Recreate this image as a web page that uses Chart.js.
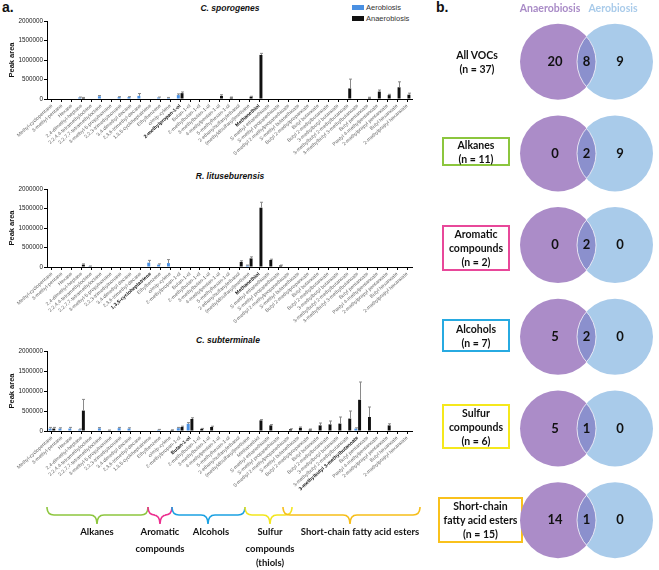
<!DOCTYPE html>
<html>
<head>
<meta charset="utf-8">
<script src="https://cdn.jsdelivr.net/npm/chart.js@4.4.1/dist/chart.umd.min.js"></script>
<style>
body{margin:0;width:659px;height:570px;position:relative;overflow:hidden;background:#fff;font-family:"Liberation Sans",Arial,sans-serif}
canvas{position:absolute}
.txt{position:absolute;white-space:nowrap;transform:translate(-50%,-50%)}
.title{font-weight:bold;font-style:italic;font-size:8.5px;color:#111}
.panel{font-weight:bold;font-size:14px;color:#111;position:absolute}
.grp{font-family:Lato,"Open Sans",sans-serif;font-weight:bold;font-size:9.5px;color:#111}
.box{position:absolute;box-sizing:border-box;border:2px solid;display:flex;align-items:center;justify-content:center;text-align:center;font-family:Lato,"Open Sans",sans-serif;font-weight:bold;font-size:10.5px;line-height:14px;color:#111}
.leg{position:absolute;font-size:7.5px;color:#333}
.sw{position:absolute;width:12px;height:5px}
</style>
</head>
<body>
<div class="panel" style="left:2px;top:-1px">a.</div>
<div class="panel" style="left:436px;top:-1px">b.</div>

<div class="txt title" style="left:230px;top:8px">C. sporogenes</div>
<div class="txt title" style="left:230px;top:176px">R. lituseburensis</div>
<div class="txt title" style="left:228px;top:340px">C. subterminale</div>

<div class="sw" style="left:352px;top:5px;background:#4a90e2"></div>
<div class="leg" style="left:366px;top:3px">Aerobiosis</div>
<div class="sw" style="left:352px;top:16px;background:#111"></div>
<div class="leg" style="left:366px;top:14px">Anaerobiosis</div>

<canvas id="c1" width="420" height="154" style="left:0;top:15px"></canvas>
<canvas id="c2" width="420" height="154" style="left:0;top:183px"></canvas>
<canvas id="c3" width="420" height="156" style="left:0;top:345px"></canvas>

<svg id="braces" width="659" height="570" style="position:absolute;left:0;top:0"></svg>
<div class="txt grp" style="left:97px;top:531px">Alkanes</div>
<div class="txt grp" style="left:160px;top:531px">Aromatic</div>
<div class="txt grp" style="left:160px;top:548px">compounds</div>
<div class="txt grp" style="left:211px;top:531px">Alcohols</div>
<div class="txt grp" style="left:270px;top:531px">Sulfur</div>
<div class="txt grp" style="left:270px;top:548px">compounds</div>
<div class="txt grp" style="left:270px;top:562px">(thiols)</div>
<div class="txt grp" style="left:360px;top:531px">Short-chain fatty acid esters</div>

<div class="txt grp" style="left:550px;top:8px;font-size:10.5px;color:#a98bc7">Anaerobiosis</div>
<div class="txt grp" style="left:613px;top:8px;font-size:10.5px;color:#a9cbea">Aerobiosis</div>

<div class="box" style="left:440px;top:46px;width:74px;height:32px;border-color:transparent">All VOCs<br>(n = 37)</div>
<div class="box" style="left:442px;top:137px;width:68px;height:29px;border-color:#8cc63e">Alkanes<br>(n = 11)</div>
<div class="box" style="left:442px;top:225px;width:68px;height:46px;border-color:#e8489a">Aromatic<br>compounds<br>(n = 2)</div>
<div class="box" style="left:442px;top:319px;width:68px;height:33px;border-color:#27aae1">Alcohols<br>(n = 7)</div>
<div class="box" style="left:442px;top:404px;width:68px;height:45px;border-color:#f5e81c">Sulfur<br>compounds<br>(n = 6)</div>
<div class="box" style="left:438px;top:497px;width:85px;height:46px;border-color:#f9c11c">Short-chain<br>fatty acid esters<br>(n = 15)</div>

<canvas id="venn" width="159" height="570" style="left:500px;top:0"></canvas>

<script>
const categories = [
  'Methyl-cyclopentane', '3-methyl-pentane', 'Hexane', '2,4-dimethyl-heptane',
  '2,2,4,4-tetramethyloctane', '2,2,7,7-tetramethyloctane', '3-methyl-5-propylnonane',
  '2,2,3-trimethylnonane', '3,4-dimethyl decane', '2,3,6-trimethyl-decane',
  '1,3,5-cycloheptatriene', 'Ethylbenzene', 'o/m/p-xylene', '2-methylpropan-1-ol',
  'Butan-1-ol', '2-methylbutan-1-ol', '3-methylbutan-1-ol', '4-methylpentan-1-ol',
  '5-methylhexan-1-ol', '2-ethenylsulfanylethanol', '(methyldisulfanyl)methane',
  'Methanethiol', 'S-methyl ethanethioate', 'S-methyl propanethioate',
  'S-methyl 2-methylpropanethioate', 'S-methyl butanethioate', 'Butyl 2-methylpropanoate',
  'Butyl butanoate', 'Butyl 2-methylbutanoate', '3-methylbutyl butanoate',
  '3-methylbutyl 2-methylbutanoate', '3-methylbutyl 3-methylbutanoate', 'Butyl pentanoate',
  'Pentyl 4-methylpentanoate', '2-methylpropyl pentanoate', 'Butyl hexanoate',
  '2-methylpropyl hexanoate'
];
const y_ticks = [0, 500000, 1000000, 1500000, 2000000];

// C. sporogenes
const sporo_aero     = [0,0,0,40000,0,70000,0,50000,50000,80000, 0,40000,30000,100000,0,0,0,0,0,0, 0,0,0,0,0,0,0,0,0,0, 0,0,0,0,0,0,0];
const sporo_aero_err = [0,0,0,10000,0,20000,0,10000,10000,60000, 0,10000,10000,30000,0,0,0,0,0,0, 0,0,0,0,0,0,0,0,0,0, 0,0,0,0,0,0,0];
const sporo_anae     = [0,0,0,30000,0,0,0,0,0,0, 0,0,0,150000,0,0,0,80000,40000,0, 60000,1130000,0,0,0,0,0,0,0,0, 270000,0,35000,190000,100000,300000,110000];
const sporo_anae_err = [0,0,0,10000,0,0,0,0,0,0, 0,0,0,30000,0,0,0,30000,10000,0, 10000,40000,0,0,0,0,0,0,0,0, 240000,0,10000,40000,20000,140000,40000];

// R. lituseburensis
const litu_aero      = [0,0,0,0,20000,0,0,0,0,0, 110000,60000,100000,0,0,0,0,0,0,0, 40000,0,0,0,0,0,0,0,0,0, 0,0,0,0,0,0,0];
const litu_aero_err  = [0,0,0,0,5000,0,0,0,0,0, 60000,20000,90000,0,0,0,0,0,0,0, 10000,0,0,0,0,0,0,0,0,0, 0,0,0,0,0,0,0];
const litu_anae      = [0,0,0,60000,0,0,0,0,0,0, 0,0,0,0,0,0,0,0,0,130000, 220000,1520000,180000,40000,0,0,0,0,0,0, 0,0,0,0,0,0,0];
const litu_anae_err  = [0,0,0,20000,0,0,0,0,0,0, 0,0,0,0,0,0,0,0,0,30000, 40000,140000,20000,10000,0,0,0,0,0,0, 0,0,0,0,0,0,0];

// C. subterminale
const subt_aero      = [60000,60000,60000,40000,0,65000,20000,70000,60000,0, 0,30000,0,70000,180000,0,0,0,0,0, 0,0,0,0,0,0,0,0,0,0, 0,60000,0,0,0,0,0];
const subt_aero_err  = [30000,20000,30000,10000,0,20000,5000,20000,20000,0, 0,10000,0,20000,30000,0,0,0,0,0, 0,0,0,0,0,0,0,0,0,0, 0,20000,0,0,0,0,0];
const subt_anae      = [60000,0,0,510000,0,0,0,0,0,0, 0,0,25000,100000,300000,55000,100000,0,0,0, 0,265000,140000,0,45000,80000,40000,140000,165000,185000, 310000,780000,350000,0,140000,0,0];
const subt_anae_err  = [30000,0,0,280000,0,0,0,0,0,0, 0,0,5000,20000,30000,10000,20000,0,0,0, 0,20000,20000,0,10000,20000,10000,60000,85000,165000, 190000,445000,250000,0,40000,0,0];

// Venn counts (anaerobiosis only / both / aerobiosis only)
const venn_rows = ['All VOCs', 'Alkanes', 'Aromatic compounds', 'Alcohols', 'Sulfur compounds', 'Short-chain fatty acid esters'];
const anae_only = [20, 0, 0, 5, 5, 14];
const shared    = [8, 2, 2, 2, 1, 1];
const aero_only = [9, 9, 0, 0, 0, 0];

const font_family = '"Liberation Sans", Arial, sans-serif';

const error_bars = {
    id: 'error_bars',
    afterDatasetsDraw(chart) {
        const ctx = chart.ctx;
        const y = chart.scales.y;
        ctx.save();
        ctx.strokeStyle = '#8a8a8a';
        ctx.lineWidth = 1;
        chart.data.datasets.forEach((ds, i) => {
            chart.getDatasetMeta(i).data.forEach((bar, j) => {
                const err = ds.errors[j];
                if (!err) return;
                const x = Math.round(bar.x) + 0.5;
                const top = y.getPixelForValue(ds.data[j] + err);
                ctx.beginPath();
                ctx.moveTo(x, bar.y);
                ctx.lineTo(x, top);
                ctx.moveTo(x - 1.5, top);
                ctx.lineTo(x + 1.5, top);
                ctx.stroke();
            });
        });
        ctx.restore();
    }
};

function make_bar_chart(id, aero, aero_err, anae, anae_err, bold_idx){
    new Chart(document.getElementById(id), {
        type: 'bar',
        data: {
            labels: categories,
            datasets: [
                {label: 'Aerobiosis', data: aero, errors: aero_err, backgroundColor: '#4a90e2'},
                {label: 'Anaerobiosis', data: anae, errors: anae_err, backgroundColor: '#111111'}
            ]
        },
        options: {
            responsive: false,
            animation: false,
            events: [],
            categoryPercentage: 0.75,
            barPercentage: 0.8,
            layout: {padding: {top: 6, right: 8, left: 0, bottom: 0}},
            plugins: {legend: {display: false}, tooltip: {enabled: false}},
            scales: {
                x: {
                    grid: {drawOnChartArea: false, offset: false, tickLength: 3, color: '#000'},
                    border: {color: '#000'},
                    ticks: {
                        autoSkip: false, maxRotation: 42, minRotation: 42, padding: 1,
                        color: c => bold_idx.includes(c.index) ? '#111' : '#666',
                        font: c => ({size: 5, family: font_family, weight: bold_idx.includes(c.index) ? 'bold' : 'normal'})
                    },
                    afterFit: s => { s.height = 70; }
                },
                y: {
                    min: 0, max: 2000000,
                    grid: {drawOnChartArea: false, tickLength: 3, color: '#000'},
                    border: {color: '#000'},
                    afterBuildTicks: s => { s.ticks = y_ticks.map(v => ({value: v})); },
                    ticks: {padding: 1, color: '#222', font: {size: 6.3, family: font_family}, callback: v => String(v)},
                    title: {display: true, text: 'Peak area', color: '#111', padding: {top: 7, bottom: 0}, font: {size: 7.5, weight: 'bold', family: font_family}},
                    afterFit: s => { s.width = 47; }
                }
            }
        },
        plugins: [error_bars]
    });
}

make_bar_chart('c1', sporo_aero, sporo_aero_err, sporo_anae, sporo_anae_err, [13, 21]);
make_bar_chart('c2', litu_aero, litu_aero_err, litu_anae, litu_anae_err, [10, 21]);
make_bar_chart('c3', subt_aero, subt_aero_err, subt_anae, subt_anae_err, [14, 31]);

// curly braces under the third chart
function draw_braces(){
    const svg = document.getElementById('braces');
    const braces = [
        [47, 97, 148, '#8dc63f'],
        [148, 160, 172, '#ec2f8f'],
        [172, 208, 245, '#1ba1e2'],
        [245, 270, 292, '#f2e61e'],
        [283, 350, 420, '#f6be1a']
    ];
    const y0 = 507, ym = 515, yt = 524, r = 7;
    braces.forEach(([a, m, b, col]) => {
        const d = `M${a},${y0} Q${a},${ym} ${a + r},${ym} L${m - r},${ym} Q${m},${ym} ${m},${yt} ` +
                  `Q${m},${ym} ${m + r},${ym} L${b - r},${ym} Q${b},${ym} ${b},${y0}`;
        const p = document.createElementNS('http://www.w3.org/2000/svg', 'path');
        p.setAttribute('d', d);
        p.setAttribute('fill', 'none');
        p.setAttribute('stroke', col);
        p.setAttribute('stroke-width', '1.6');
        svg.appendChild(p);
    });
}
draw_braces();

const venn_radius = 38;
const venn_overlap = {
    id: 'venn_overlap',
    afterDatasetsDraw(chart) {
        const ctx = chart.ctx;
        const purple = chart.getDatasetMeta(0).data;
        const blue = chart.getDatasetMeta(1).data;
        venn_rows.forEach((row, i) => {
            const p = purple[i], b = blue[i];
            ctx.save();
            ctx.beginPath();
            ctx.arc(p.x, p.y, venn_radius, 0, Math.PI * 2);
            ctx.clip();
            ctx.beginPath();
            ctx.arc(b.x, b.y, venn_radius, 0, Math.PI * 2);
            ctx.fillStyle = '#8b90cd';
            ctx.fill();
            ctx.strokeStyle = 'rgba(255,255,255,0.75)';
            ctx.lineWidth = 1;
            ctx.stroke();
            ctx.restore();
            ctx.save();
            ctx.beginPath();
            ctx.arc(b.x, b.y, venn_radius, 0, Math.PI * 2);
            ctx.clip();
            ctx.beginPath();
            ctx.arc(p.x, p.y, venn_radius, 0, Math.PI * 2);
            ctx.strokeStyle = 'rgba(255,255,255,0.75)';
            ctx.lineWidth = 1;
            ctx.stroke();
            ctx.restore();

            ctx.save();
            ctx.fillStyle = '#111';
            ctx.font = 'bold 13px Lato, "Open Sans", sans-serif';
            ctx.textAlign = 'center';
            ctx.textBaseline = 'middle';
            ctx.fillText(String(anae_only[i]), p.x - 3, p.y);
            ctx.fillText(String(shared[i]), (p.x + b.x) / 2, p.y);
            ctx.fillText(String(aero_only[i]), b.x + 5, b.y);
            ctx.restore();
        });
    }
};

new Chart(document.getElementById('venn'), {
    type: 'bubble',
    data: {
        datasets: [
            {label: 'Anaerobiosis', data: venn_rows.map((_, i) => ({x: 0, y: i, r: venn_radius})), backgroundColor: '#ab8cc8', borderWidth: 0},
            {label: 'Aerobiosis', data: venn_rows.map((_, i) => ({x: 1, y: i, r: venn_radius})), backgroundColor: '#a9cbea', borderWidth: 0}
        ]
    },
    options: {
        responsive: false,
        animation: false,
        events: [],
        clip: false,
        layout: {padding: 0, autoPadding: false},
        plugins: {legend: {display: false}, tooltip: {enabled: false}},
        scales: {
            x: {type: 'linear', display: false, min: -1.018, max: 1.772},
            y: {type: 'linear', display: false, reverse: true, min: -0.673, max: 5.543}
        }
    },
    plugins: [venn_overlap]
});
</script>
</body>
</html>
